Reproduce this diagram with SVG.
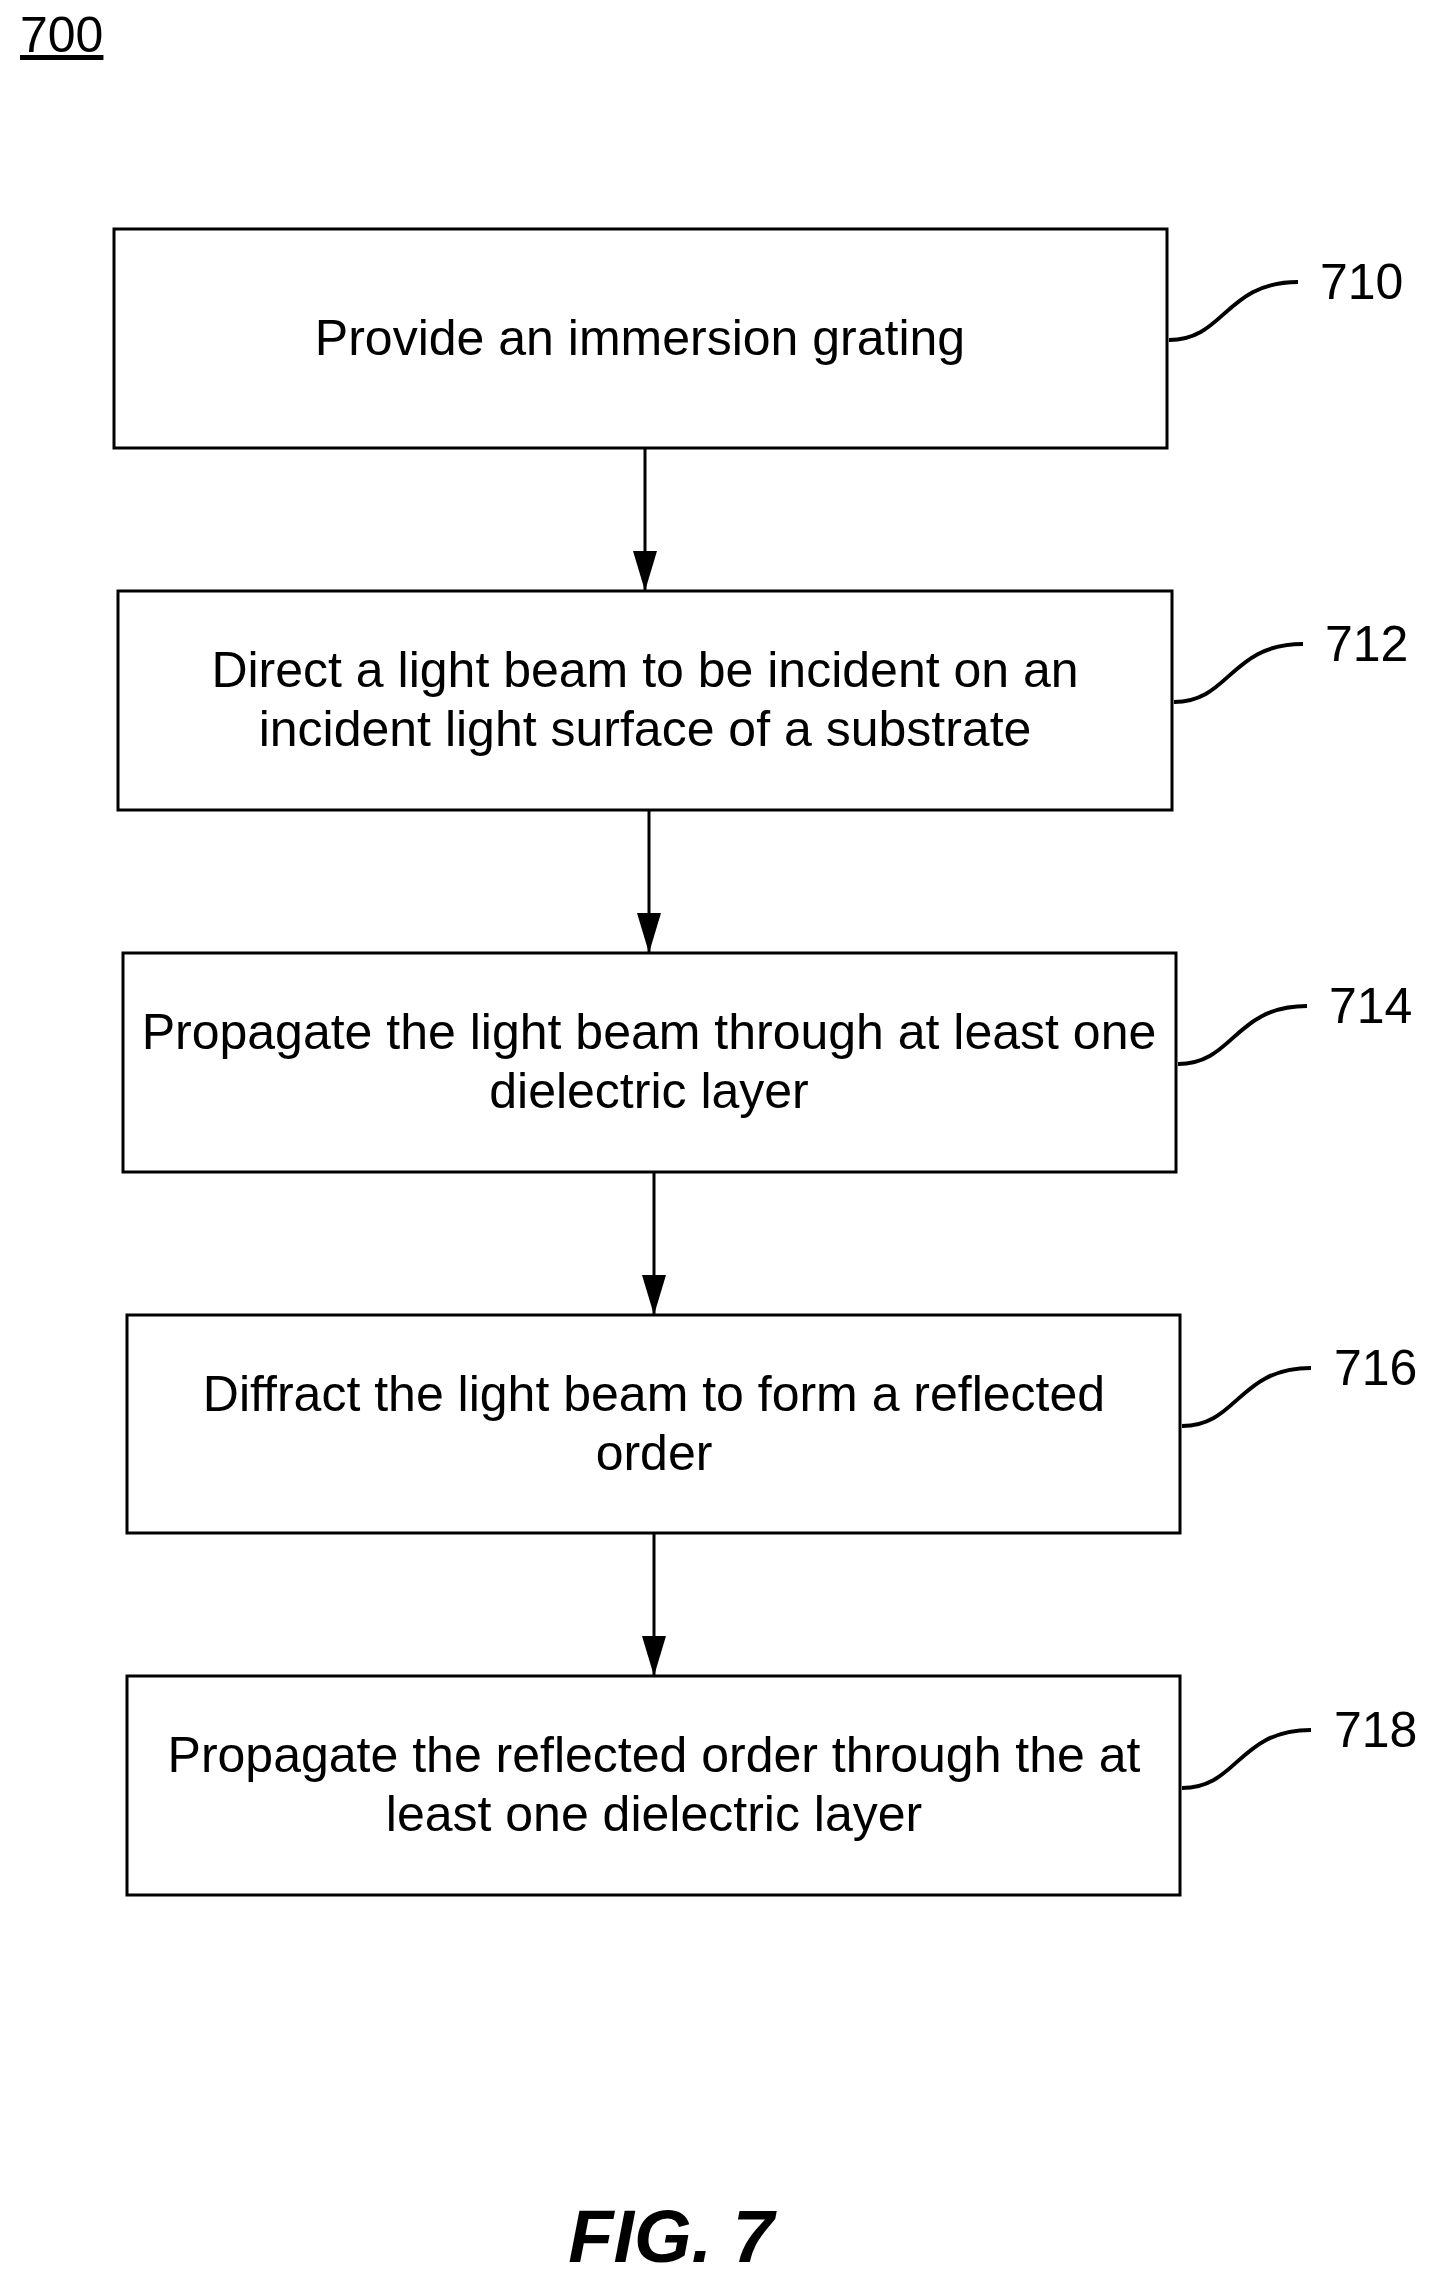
<svg xmlns="http://www.w3.org/2000/svg" width="1430" height="2281" viewBox="0 0 1430 2281">
<style>
.b{fill:#fff;stroke:#000;stroke-width:3}
.t{font-family:"Liberation Sans",Arial,sans-serif;font-size:50px;text-anchor:middle;fill:#000}
.l{font-family:"Liberation Sans",Arial,sans-serif;font-size:50px;fill:#000}
.c{stroke:#000;stroke-width:3;fill:none}
.ld{stroke:#000;stroke-width:4;fill:none}
</style>
<defs>
<marker id="ah" viewBox="0 0 40 24" refX="40" refY="12" markerWidth="40" markerHeight="24" orient="auto" markerUnits="userSpaceOnUse"><path d="M0,0 L40,12 L0,24 Z" fill="#000"/></marker></defs>
<text x="20" y="52" class="l" text-decoration="underline">700</text>
<g id="n710"><rect class="b" x="114" y="229" width="1053" height="219"/><text class="t" x="640" y="355">Provide an immersion grating</text>
<path class="ld" d="M1169,340 C1225,340 1225,282 1298,282"/><text class="l" x="1320" y="299">710</text></g>
<g id="n712"><rect class="b" x="118" y="591" width="1054" height="219"/><text class="t" x="645" y="687">Direct a light beam to be incident on an</text><text class="t" x="645" y="746">incident light surface of a substrate</text>
<path class="ld" d="M1174,702 C1230,702 1230,644 1303,644"/><text class="l" x="1325" y="661">712</text></g>
<g id="n714"><rect class="b" x="123" y="953" width="1053" height="219"/><text class="t" x="649" y="1049">Propagate the light beam through at least one</text><text class="t" x="649" y="1108">dielectric layer</text>
<path class="ld" d="M1178,1064 C1234,1064 1234,1006 1307,1006"/><text class="l" x="1329" y="1023">714</text></g>
<g id="n716"><rect class="b" x="127" y="1315" width="1053" height="218"/><text class="t" x="654" y="1411">Diffract the light beam to form a reflected</text><text class="t" x="654" y="1470">order</text>
<path class="ld" d="M1182,1426 C1238,1426 1238,1368 1311,1368"/><text class="l" x="1334" y="1385">716</text></g>
<g id="n718"><rect class="b" x="127" y="1676" width="1053" height="219"/><text class="t" x="654" y="1772">Propagate the reflected order through the at</text><text class="t" x="654" y="1831">least one dielectric layer</text>
<path class="ld" d="M1182,1788 C1238,1788 1238,1730 1311,1730"/><text class="l" x="1334" y="1747">718</text></g>
<g id="connectors">
<line class="c" x1="645" y1="448" x2="645" y2="591" marker-end="url(#ah)"/>
<line class="c" x1="649" y1="810" x2="649" y2="953" marker-end="url(#ah)"/>
<line class="c" x1="654" y1="1172" x2="654" y2="1315" marker-end="url(#ah)"/>
<line class="c" x1="654" y1="1533" x2="654" y2="1676" marker-end="url(#ah)"/>
</g>
<text x="671" y="2262" font-family="Liberation Sans,Arial,sans-serif" font-size="74" font-weight="bold" font-style="italic" text-anchor="middle">FIG. 7</text>
</svg>
